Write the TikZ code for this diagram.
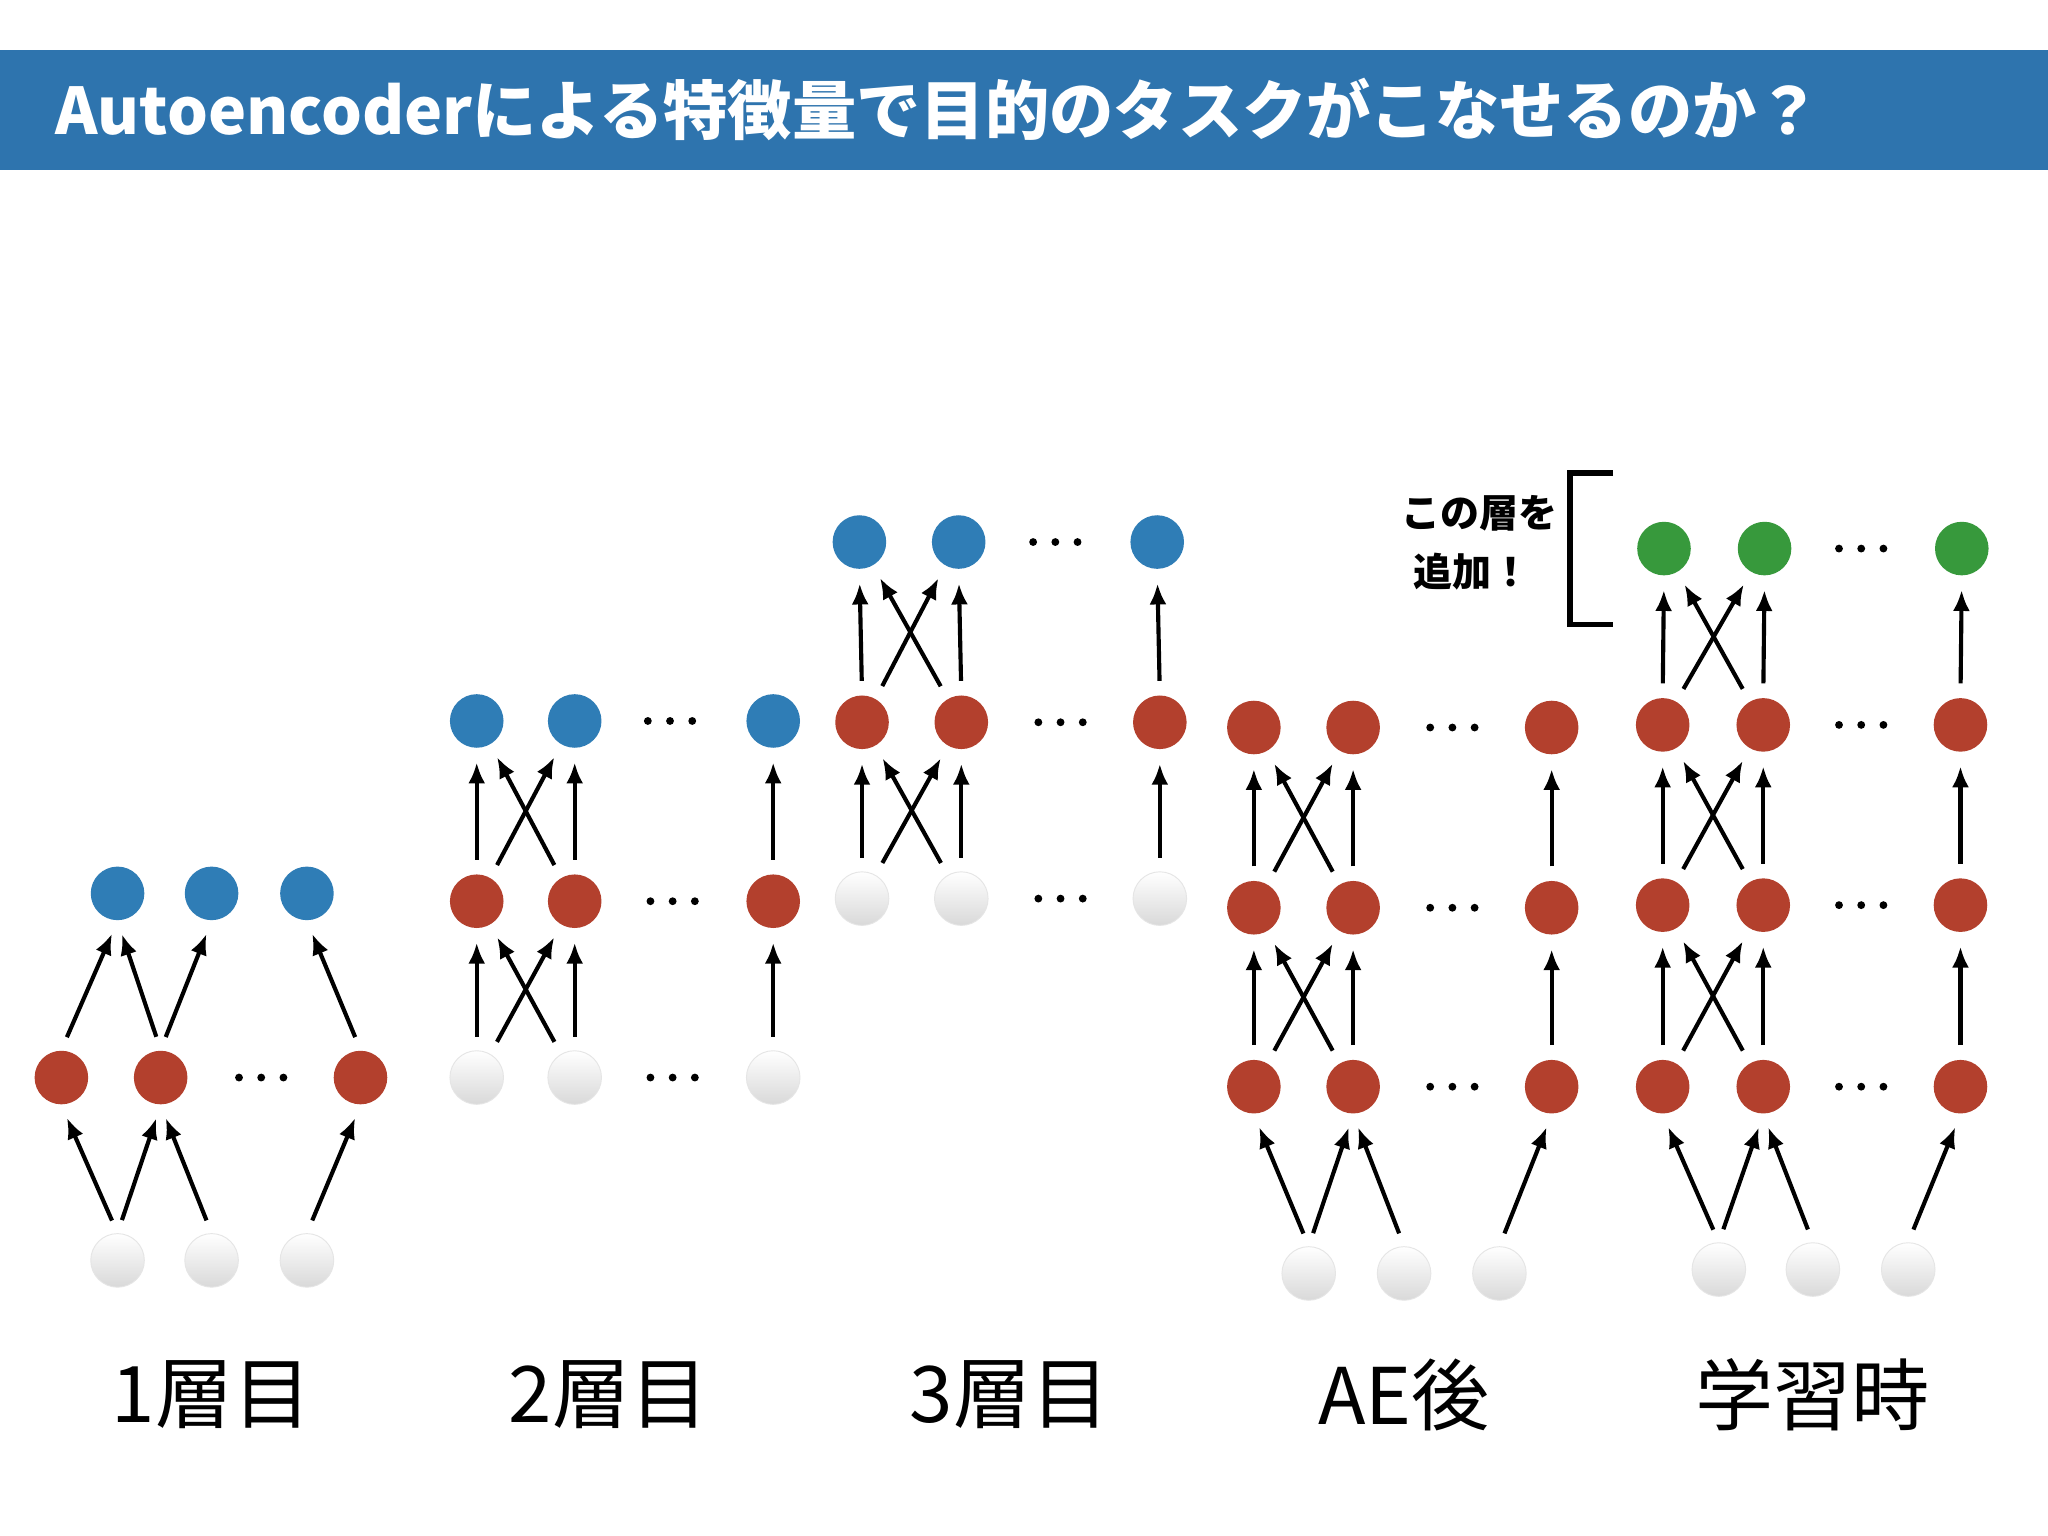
\documentclass[tikz,border=0pt]{standalone}
\usepackage{fontspec}
\setmainfont{Noto Sans CJK JP}
\usetikzlibrary{arrows.meta}
\definecolor{tbar}{HTML}{2E74AE}
\definecolor{nblue}{HTML}{2F7DB6}
\definecolor{nred}{HTML}{B3402D}
\definecolor{ngreen}{HTML}{37993C}
\tikzset{
  nd/.style={circle,minimum size=0.41cm,inner sep=0pt},
  bl/.style={nd,fill=nblue},
  rd/.style={nd,fill=nred},
  gr/.style={nd,fill=ngreen},
  wh/.style={nd,top color=white,bottom color=gray!30,draw=gray!20,line width=0.2pt},
  ar/.style={-{Latex[length=1.6mm,width=1.3mm]},line width=0.9pt,shorten >=3pt,shorten <=3pt},
  lab/.style={font=\fontsize{17}{20}\selectfont},
}
\newcommand{\mydots}[2]{\foreach \d in {-17,0,17}{\fill (#1+\d,#2) circle (3);}}
\begin{document}
\begin{tikzpicture}[x=0.01cm,y=-0.01cm]
\useasboundingbox (0,0) rectangle (1568,1176);
\fill[white] (0,0) rectangle (1568,1176);
\fill[tbar] (0,38) rectangle (1568,130);
\node[anchor=west,text=white,font=\fontsize{14}{16}\selectfont\bfseries] (title) at (30,84) {Autoencoderによる特徴量で目的のタスクがこなせるのか？};

% ---------- diagram 1
\foreach \x/\n in {90/1,162/2,235/3}{\node[wh] (a0\n) at (\x,965) {}; \node[bl] (a2\n) at (\x,684) {};}
\foreach \x/\n in {47/1,123/2,276/3}{\node[rd] (a1\n) at (\x,825) {};}
\draw[ar] (a01.north) -- (a11.south); \draw[ar] (a01.north) -- (a12.south); \draw[ar] (a02.north) -- (a12.south); \draw[ar] (a03.north) -- (a13.south);
\draw[ar] (a11.north) -- (a21.south); \draw[ar] (a12.north) -- (a21.south); \draw[ar] (a12.north) -- (a22.south); \draw[ar] (a13.north) -- (a23.south);
\mydots{200}{825}

% ---------- diagram 2
\foreach \x/\n in {365/1,440/2,592/3}{
  \node[wh] (b0\n) at (\x,825) {}; \node[rd] (b1\n) at (\x,690) {}; \node[bl] (b2\n) at (\x,552) {};}
\foreach \l/\u in {0/1,1/2}{
  \foreach \n in {1,2,3}{\draw[ar] (b\l\n.north) -- (b\u\n.south);}
  \draw[ar] (b\l1.60) -- (b\u2.240); \draw[ar] (b\l2.120) -- (b\u1.300);}
\mydots{515}{825}\mydots{515}{690}\mydots{513}{552}

% ---------- diagram 3
\foreach \x/\n in {660/1,736/2,888/3}{
  \node[wh] (c0\n) at (\x,688) {}; \node[rd] (c1\n) at (\x,553) {}; \node[bl] (c2\n) at (\x-2,415) {};}
\foreach \l/\u in {0/1,1/2}{
  \foreach \n in {1,2,3}{\draw[ar] (c\l\n.north) -- (c\u\n.south);}
  \draw[ar] (c\l1.60) -- (c\u2.240); \draw[ar] (c\l2.120) -- (c\u1.300);}
\mydots{812}{688}\mydots{812}{553}\mydots{808}{415}

% ---------- AE後
\foreach \x/\n in {960/1,1036/2,1188/3}{
  \node[rd] (d1\n) at (\x,832) {}; \node[rd] (d2\n) at (\x,695) {}; \node[rd] (d3\n) at (\x,557) {};}
\foreach \x/\n in {1002/1,1075/2,1148/3}{\node[wh] (d0\n) at (\x,975) {};}
\draw[ar] (d01.north) -- (d11.south); \draw[ar] (d01.north) -- (d12.south); \draw[ar] (d02.north) -- (d12.south); \draw[ar] (d03.north) -- (d13.south);
\foreach \l/\u in {1/2,2/3}{
  \foreach \n in {1,2,3}{\draw[ar] (d\l\n.north) -- (d\u\n.south);}
  \draw[ar] (d\l1.60) -- (d\u2.240); \draw[ar] (d\l2.120) -- (d\u1.300);}
\mydots{1112}{832}\mydots{1112}{695}\mydots{1112}{557}

% ---------- 学習時
\foreach \x/\n in {1273/1,1350/2,1501/3}{
  \node[rd] (e1\n) at (\x,832) {}; \node[rd] (e2\n) at (\x,693) {}; \node[rd] (e3\n) at (\x,555) {}; \node[gr] (e4\n) at (\x+1,420) {};}
\foreach \x/\n in {1316/1,1388/2,1461/3}{\node[wh] (e0\n) at (\x,972) {};}
\draw[ar] (e01.north) -- (e11.south); \draw[ar] (e01.north) -- (e12.south); \draw[ar] (e02.north) -- (e12.south); \draw[ar] (e03.north) -- (e13.south);
\foreach \l/\u in {1/2,2/3,3/4}{
  \foreach \n in {1,2,3}{\draw[ar] (e\l\n.north) -- (e\u\n.south);}
  \draw[ar] (e\l1.60) -- (e\u2.240); \draw[ar] (e\l2.120) -- (e\u1.300);}
\mydots{1425}{832}\mydots{1425}{693}\mydots{1425}{555}\mydots{1425}{420}

% bracket
\draw[line width=1.2pt] (1235,362) -- (1202,362) -- (1202,478) -- (1235,478);
\node[font=\fontsize{8.5}{10}\selectfont\bfseries] (add1) at (1133,393) {この層を};
\node[font=\fontsize{8.5}{10}\selectfont\bfseries] (add2) at (1127,438) {追加！};

% labels
\node[lab] (l1) at (162,1068) {1層目};
\node[lab] (l2) at (466,1068) {2層目};
\node[lab] (l3) at (773,1068) {3層目};
\node[lab] (l4) at (1075,1068) {AE後};
\node[lab] (l5) at (1388,1068) {学習時};
\end{tikzpicture}
\end{document}
